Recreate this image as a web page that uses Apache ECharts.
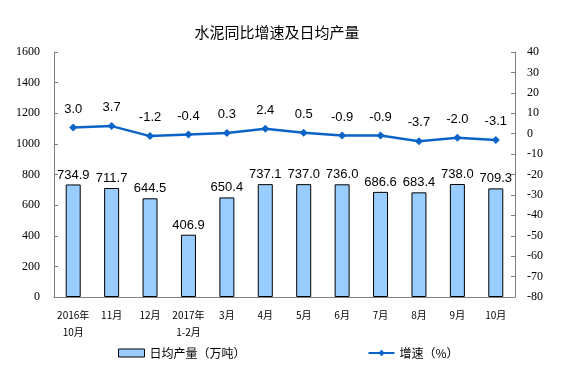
<!DOCTYPE html>
<html>
<head>
<meta charset="utf-8">
<script src="https://cdn.jsdelivr.net/npm/echarts@6/dist/echarts.min.js"></script>
<style>
  html, body { margin: 0; padding: 0; background: #fff; }
  #main { width: 574px; height: 365px; }
</style>
</head>
<body>
<div id="main"></div>
<script>
const categories = ['2016年\n10月', '11月', '12月', '2017年\n1-2月', '3月', '4月', '5月', '6月', '7月', '8月', '9月', '10月'];
const dailyOutput = [734.9, 711.7, 644.5, 406.9, 650.4, 737.1, 737.0, 736.0, 686.6, 683.4, 738.0, 709.3];
const growth = [3.0, 3.7, -1.2, -0.4, 0.3, 2.4, 0.5, -0.9, -0.9, -3.7, -2.0, -3.1];

const axisGray = '#808080';
const tickFont = { fontFamily: 'Liberation Serif', fontSize: 12, color: '#000' };

const chart = echarts.init(document.getElementById('main'));
chart.setOption({
    animation: false,
    title: {
        text: '水泥同比增速及日均产量',
        left: 272,
        textAlign: 'center',
        top: 20,
        textStyle: { fontFamily: 'Noto Sans CJK SC', fontSize: 15, fontWeight: 'normal', color: '#000' }
    },
    grid: { left: 54, right: 59, top: 52, bottom: 68 },
    legend: {
        bottom: 1,
        left: 113,
        itemGap: 122,
        textStyle: { fontFamily: 'Noto Sans CJK SC', fontSize: 12, color: '#000' },
        data: [
            { name: '日均产量（万吨）', icon: 'rect', itemStyle: { borderColor: '#000', borderWidth: 1 } },
            { name: '增速（%）' }
        ],
        itemWidth: 26,
        itemHeight: 8
    },
    xAxis: {
        type: 'category',
        data: categories,
        axisLine: { lineStyle: { color: axisGray } },
        axisTick: { lineStyle: { color: axisGray }, length: 4 },
        axisLabel: { fontFamily: 'Noto Sans CJK SC', fontSize: 10, color: '#000', lineHeight: 17, margin: 10, interval: 0 }
    },
    yAxis: [
        {
            type: 'value', min: 0, max: 1600, interval: 200,
            splitLine: { show: false },
            axisLine: { show: true, lineStyle: { color: axisGray } },
            axisTick: { show: true, inside: true, length: 4, lineStyle: { color: axisGray } },
            axisLabel: Object.assign({ margin: 14, formatter: function (v) { return String(v); } }, tickFont)
        },
        {
            type: 'value', min: -80, max: 40, interval: 10,
            splitLine: { show: false },
            axisLine: { show: true, lineStyle: { color: axisGray } },
            axisTick: { show: true, inside: true, length: 4, lineStyle: { color: axisGray } },
            axisLabel: Object.assign({ margin: 12 }, tickFont)
        }
    ],
    series: [
        {
            name: '日均产量（万吨）',
            type: 'bar',
            data: dailyOutput,
            barWidth: 15,
            itemStyle: { color: '#99CCFF', borderColor: '#000', borderWidth: 1 },
            label: {
                show: true, position: 'top', distance: 3,
                fontFamily: 'Liberation Sans', fontSize: 13, color: '#000',
                formatter: function (p) { return p.value.toFixed(1); }
            }
        },
        {
            name: '增速（%）',
            type: 'line',
            yAxisIndex: 1,
            data: growth,
            symbol: 'diamond',
            symbolSize: 8,
            lineStyle: { color: '#0A64C8', width: 2.5 },
            itemStyle: { color: '#0A64C8' },
            label: {
                show: true, position: 'top', distance: 8,
                fontFamily: 'Liberation Sans', fontSize: 13, color: '#000',
                formatter: function (p) { return p.value.toFixed(1); }
            }
        }
    ]
});
</script>
</body>
</html>
